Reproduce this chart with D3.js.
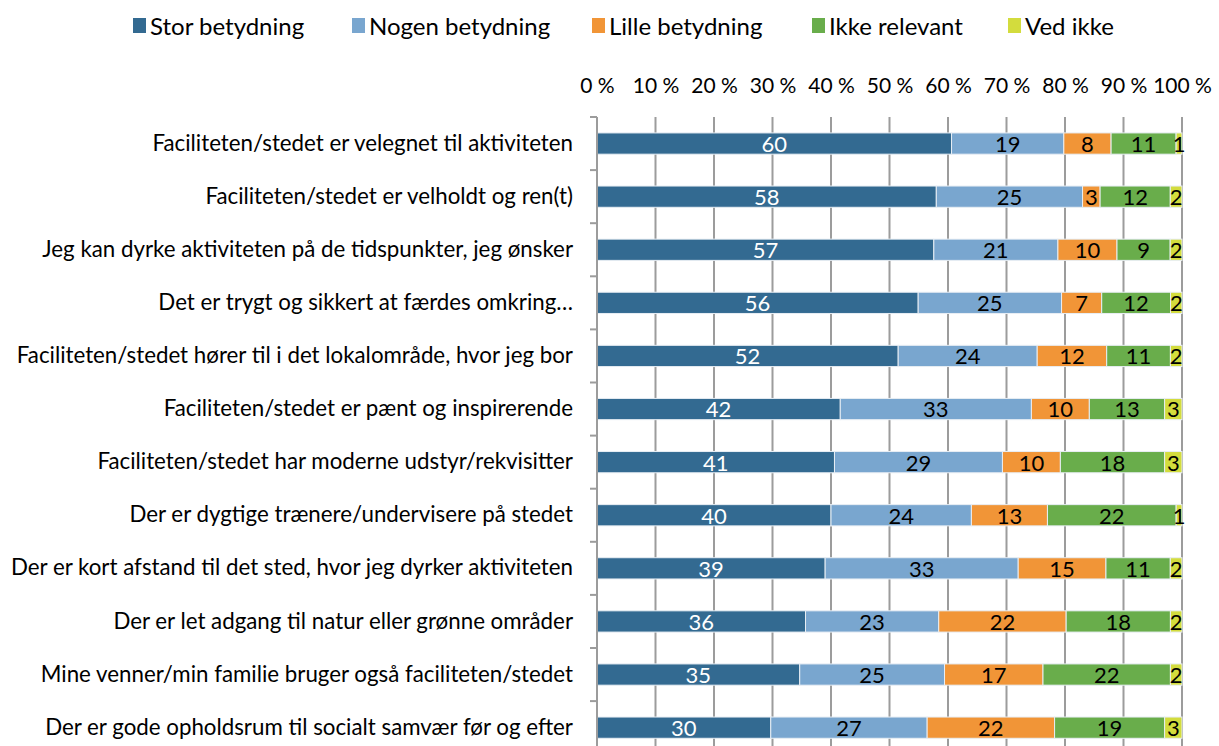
<!DOCTYPE html>
<html>
<head>
<meta charset="utf-8">
<script src="https://cdn.jsdelivr.net/npm/d3@7"></script>
<style>
  body { margin: 0; background: #fff; }
  svg { font-family: Lato, 'Open Sans', sans-serif; }
</style>
</head>
<body>
<div id="chart"></div>
<script>
'use strict';

// categories, top to bottom
const categories = [
	'Faciliteten/stedet er velegnet til aktiviteten',
	'Faciliteten/stedet er velholdt og ren(t)',
	'Jeg kan dyrke aktiviteten på de tidspunkter, jeg ønsker',
	'Det er trygt og sikkert at færdes omkring…',
	'Faciliteten/stedet hører til i det lokalområde, hvor jeg bor',
	'Faciliteten/stedet er pænt og inspirerende',
	'Faciliteten/stedet har moderne udstyr/rekvisitter',
	'Der er dygtige trænere/undervisere på stedet',
	'Der er kort afstand til det sted, hvor jeg dyrker aktiviteten',
	'Der er let adgang til natur eller grønne områder',
	'Mine venner/min familie bruger også faciliteten/stedet',
	'Der er gode opholdsrum til socialt samvær før og efter'
];

const seriesNames = ['Stor betydning', 'Nogen betydning', 'Lille betydning', 'Ikke relevant', 'Ved ikke'];

const storValues   = [60, 58, 57, 56, 52, 42, 41, 40, 39, 36, 35, 30];
const nogenValues  = [19, 25, 21, 25, 24, 33, 29, 24, 33, 23, 25, 27];
const lilleValues  = [8, 3, 10, 7, 12, 10, 10, 13, 15, 22, 17, 22];
const ikkeValues   = [11, 12, 9, 12, 11, 13, 18, 22, 11, 18, 22, 19];
const vedValues    = [1, 2, 2, 2, 2, 3, 3, 1, 2, 2, 2, 3];

const tickValues = [0, 0.1, 0.2, 0.3, 0.4, 0.5, 0.6, 0.7, 0.8, 0.9, 1];

const colors = ['#336a91', '#79a6cf', '#f19537', '#69ad4b', '#d3dc3d'];
const labelColors = ['#fff', '#000', '#000', '#000', '#000'];

const width = 1219;
const height = 746;
const margin = { top: 117, left: 597, right: 37 };
const rowStep = 53.1;

var allValues = [storValues, nogenValues, lilleValues, ikkeValues, vedValues];
var rows = categories.map(function(c, i) {
	var row = { category: c };
	seriesNames.forEach(function(s, j) { row[s] = allValues[j][i]; });
	return row;
});

var stacked = d3.stack()
	.keys(seriesNames)
	.offset(d3.stackOffsetExpand)(rows);

var svg = d3.select('#chart').append('svg')
	.attr('width', width)
	.attr('height', height);

var x = d3.scaleLinear()
	.domain([0, 1])
	.range([margin.left, width - margin.right]);

var y = d3.scaleBand()
	.domain(categories)
	.range([margin.top, margin.top + rowStep * categories.length])
	.paddingInner(0.6)
	.paddingOuter(0.3);

var plotBottom = margin.top + rowStep * categories.length;

// gridlines
svg.append('g').selectAll('line')
	.data(tickValues.slice(1))
	.enter().append('line')
	.attr('x1', function(d) { return x(d); })
	.attr('x2', function(d) { return x(d); })
	.attr('y1', margin.top)
	.attr('y2', plotBottom)
	.style('stroke', '#9c9c9c')
	.style('stroke-width', 2);

// top axis labels
var xAxis = d3.axisTop(x)
	.tickValues(tickValues)
	.tickSize(0)
	.tickPadding(24)
	.tickFormat(function(d) { return Math.round(d * 100) + ' %'; });
var xg = svg.append('g')
	.attr('transform', 'translate(0,' + margin.top + ')')
	.call(xAxis);
xg.select('.domain').remove();
xg.selectAll('text')
	.style('font-family', 'Lato, sans-serif')
	.style('font-size', '21px')
	.style('fill', '#000');

// bars
var layer = svg.append('g').selectAll('g')
	.data(stacked)
	.enter().append('g')
	.style('fill', function(d, i) { return colors[i]; });

layer.selectAll('rect')
	.data(function(d) { return d; })
	.enter().append('rect')
	.attr('x', function(d) { return x(d[0]); })
	.attr('width', function(d) { return x(d[1]) - x(d[0]); })
	.attr('y', function(d) { return y(d.data.category); })
	.attr('height', y.bandwidth())
	.style('stroke', '#e8eef4')
	.style('stroke-width', 1);

// value labels
var labelLayer = svg.append('g').selectAll('g')
	.data(stacked)
	.enter().append('g')
	.style('fill', function(d, i) { return labelColors[i]; });

labelLayer.each(function(series) {
	d3.select(this).selectAll('text')
		.data(series)
		.enter().append('text')
		.attr('x', function(d) { return (x(d[0]) + x(d[1])) / 2; })
		.attr('y', function(d) { return y(d.data.category) + y.bandwidth() / 2; })
		.attr('dy', '0.38em')
		.style('text-anchor', 'middle')
		.style('font-size', '22px')
		.text(function(d) { return d.data[series.key]; });
});

// left axis line and ticks between categories
svg.append('line')
	.attr('x1', margin.left).attr('x2', margin.left)
	.attr('y1', margin.top).attr('y2', plotBottom)
	.style('stroke', '#9c9c9c')
	.style('stroke-width', 2);

svg.append('g').selectAll('line')
	.data(d3.range(categories.length + 1))
	.enter().append('line')
	.attr('x1', margin.left - 7).attr('x2', margin.left)
	.attr('y1', function(i) { return margin.top + i * rowStep; })
	.attr('y2', function(i) { return margin.top + i * rowStep; })
	.style('stroke', '#9c9c9c')
	.style('stroke-width', 2);

// category labels
var yAxis = d3.axisLeft(y).tickSize(0).tickPadding(24);
var yg = svg.append('g')
	.attr('transform', 'translate(' + margin.left + ',0)')
	.call(yAxis);
yg.select('.domain').remove();
yg.selectAll('text')
	.style('font-family', 'Lato, sans-serif')
	.style('font-size', '22.3px')
	.style('fill', '#000');

// legend
var legendX = [133, 352, 592, 812, 1008];
var legend = svg.append('g').selectAll('g')
	.data(seriesNames)
	.enter().append('g')
	.attr('transform', function(d, i) { return 'translate(' + legendX[i] + ',18)'; });
legend.append('rect')
	.attr('width', 13)
	.attr('height', 15)
	.style('fill', function(d, i) { return colors[i]; });
legend.append('text')
	.attr('x', 17)
	.attr('y', 8)
	.attr('dy', '0.36em')
	.style('font-size', '24px')
	.text(function(d) { return d; });
</script>
</body>
</html>
